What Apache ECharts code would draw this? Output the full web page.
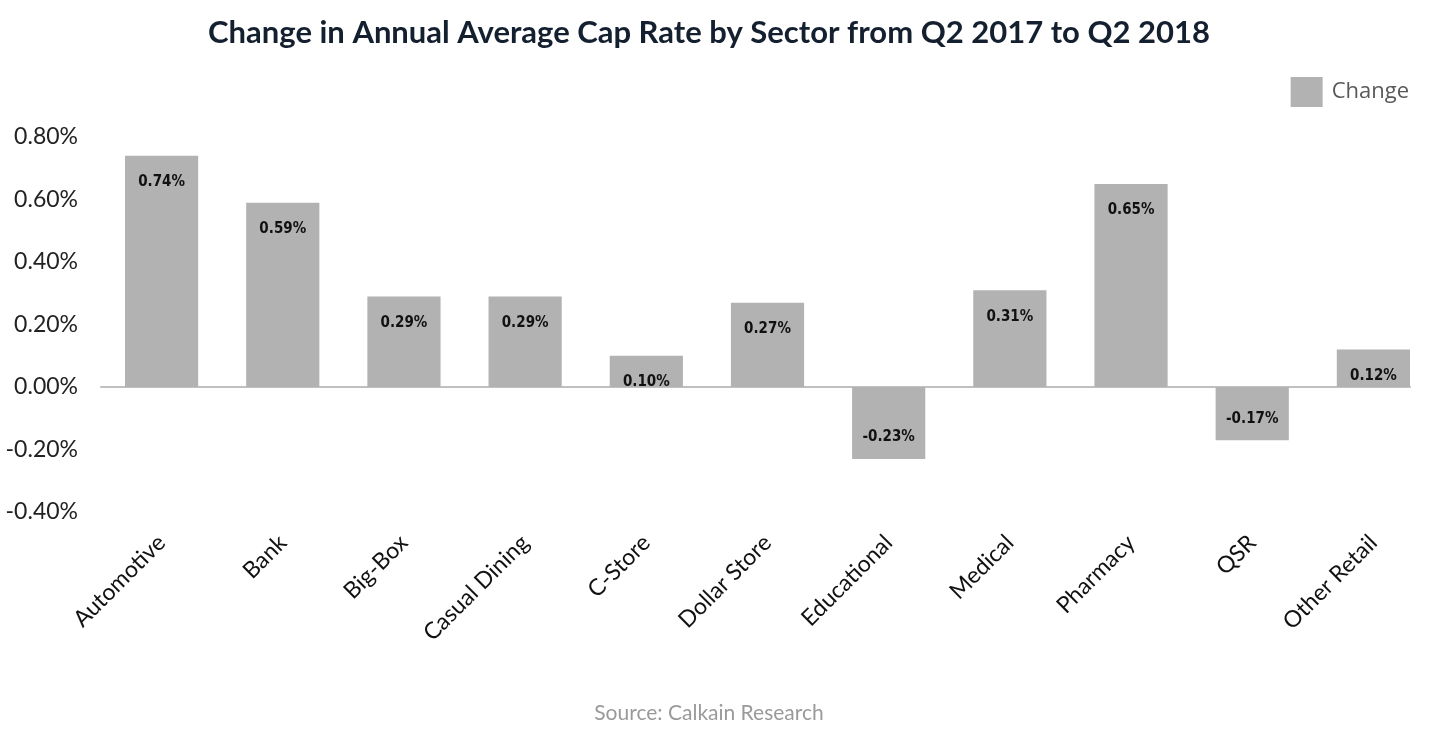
<!DOCTYPE html>
<html>
<head>
<meta charset="utf-8">
<script src="https://cdn.jsdelivr.net/npm/echarts@6/dist/echarts.min.js"></script>
<style>
html,body{margin:0;padding:0;background:#fff;}
#main{width:1438px;height:735px;}
</style>
</head>
<body>
<div id="main"></div>
<script>
var titleText = 'Change in Annual Average Cap Rate by Sector from Q2 2017 to Q2 2018';
var sourceText = 'Source: Calkain Research';
var seriesName = 'Change';
var categories = ['Automotive','Bank','Big-Box','Casual Dining','C-Store','Dollar Store','Educational','Medical','Pharmacy','QSR','Other Retail'];
var changeValues = [0.74, 0.59, 0.29, 0.29, 0.10, 0.27, -0.23, 0.31, 0.65, -0.17, 0.12];
var yMin = -0.4, yMax = 0.8, yInterval = 0.2;

var labelFont = '"DejaVu Sans Condensed", "Liberation Sans Narrow", Roboto, sans-serif';

var chart = echarts.init(document.getElementById('main'));
chart.setOption({
  animation: false,
  backgroundColor: '#ffffff',
  title: [{
    text: titleText,
    left: 704,
    textAlign: 'center',
    top: 12,
    textStyle: {fontFamily: 'Lato', fontWeight: 'bold', fontSize: 31, color: '#14202f'}
  }, {
    text: sourceText,
    left: 704,
    textAlign: 'center',
    top: 698,
    textStyle: {fontFamily: 'Lato', fontWeight: 'normal', fontSize: 21, color: '#9a9a9a'}
  }],
  legend: {
    data: [{name: seriesName, icon: 'rect'}],
    right: 24,
    top: 72,
    itemWidth: 32,
    itemHeight: 30,
    textStyle: {fontFamily: 'Open Sans', fontSize: 22, color: '#595959', padding: [6, 0, 0, 4]}
  },
  grid: [
    {left: 101, right: 4, top: 137, bottom: 223, containLabel: false},
    {left: 101, right: 28, top: 137, bottom: 223, containLabel: false}
  ],
  xAxis: [{
    type: 'category',
    gridIndex: 0,
    data: categories,
    axisLine: {show: false, onZero: false},
    axisTick: {show: false},
    axisLabel: {
      rotate: 45,
      margin: 27,
      interval: 0,
      fontFamily: 'Lato',
      fontSize: 23,
      color: '#111'
    }
  }, {
    type: 'value',
    gridIndex: 1,
    min: 0,
    max: 1,
    axisLine: {show: true, onZero: true, lineStyle: {color: '#c0c0c0', width: 2}},
    axisTick: {show: false},
    axisLabel: {show: false},
    splitLine: {show: false}
  }],
  yAxis: [{
    type: 'value',
    gridIndex: 0,
    min: yMin,
    max: yMax,
    interval: yInterval,
    axisLine: {show: false},
    axisTick: {show: false},
    splitLine: {show: false},
    axisLabel: {
      margin: 23,
      fontFamily: 'Lato',
      fontSize: 23,
      color: '#222',
      formatter: function (v) { return v.toFixed(2) + '%'; }
    }
  }, {
    type: 'value',
    gridIndex: 1,
    min: yMin,
    max: yMax,
    interval: yInterval,
    axisLine: {show: false},
    axisTick: {show: false},
    splitLine: {show: false},
    axisLabel: {show: false}
  }],
  series: [{
    name: seriesName,
    type: 'bar',
    xAxisIndex: 0,
    yAxisIndex: 0,
    barCategoryGap: '39.6%',
    itemStyle: {color: '#b2b2b2'},
    data: changeValues.map(function (v) {
      return {
        value: v,
        label: {position: v < 0 ? 'insideBottom' : 'insideTop', distance: v < 0 ? 14 : 19}
      };
    }),
    label: {
      show: true,
      fontFamily: labelFont,
      fontWeight: 'bold',
      fontSize: 15,
      color: '#111',
      formatter: function (p) { return p.value.toFixed(2) + '%'; }
    }
  }]
});
</script>
</body>
</html>
